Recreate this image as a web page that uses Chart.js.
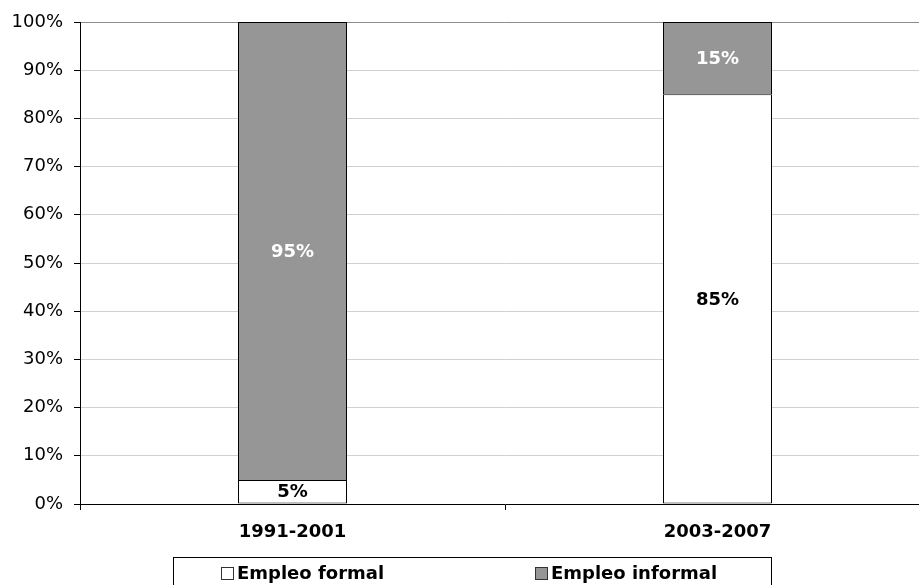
<!DOCTYPE html>
<html>
<head>
<meta charset="utf-8">
<script src="https://cdn.jsdelivr.net/npm/chart.js@4.4.1/dist/chart.umd.min.js"></script>
<style>
  html, body { margin: 0; padding: 0; background: #fff; overflow: hidden; }
  #wrap { width: 930px; height: 585px; }
</style>
</head>
<body>
<div id="wrap"><canvas id="chart" width="930" height="585"></canvas></div>
<script>
// Periods and employment shares (percent of total)
const periods = ['1991-2001', '2003-2007'];
const formalShare = [5, 85];
const informalShare = [95, 15];
const seriesNames = ['Empleo formal', 'Empleo informal'];
const yTicks = [0, 10, 20, 30, 40, 50, 60, 70, 80, 90, 100];

const FONT = 'Verdana, "DejaVu Sans", sans-serif';
const GREY = '#969696';

// Centered percentage labels inside each stacked segment
const segmentLabels = {
  id: 'segmentLabels',
  afterDatasetsDraw(chart) {
    const ctx = chart.ctx;
    ctx.save();
    ctx.font = 'bold 18px ' + FONT;
    ctx.textAlign = 'center';
    ctx.textBaseline = 'middle';
    chart.data.datasets.forEach((ds, di) => {
      const meta = chart.getDatasetMeta(di);
      meta.data.forEach((el, i) => {
        const v = ds.data[i];
        ctx.fillStyle = ds.labelColor;
        ctx.fillText(v + '%', el.x, (el.y + el.base) / 2 + 1);
      });
    });
    ctx.restore();
  }
};

// Boxed legend beneath the category axis
const boxedLegend = {
  id: 'boxedLegend',
  afterDraw(chart) {
    const ctx = chart.ctx;
    ctx.save();
    const top = 557.5, left = 173.5, right = 771.5;
    ctx.strokeStyle = '#000';
    ctx.lineWidth = 1;
    ctx.strokeRect(left, top, right - left, 60);
    const y = 573;
    const starts = [221, 535];
    ctx.font = 'bold 18px ' + FONT;
    ctx.textBaseline = 'middle';
    ctx.textAlign = 'left';
    chart.data.datasets.forEach((ds, i) => {
      const x = starts[i];
      ctx.fillStyle = ds.backgroundColor;
      ctx.fillRect(x + 0.5, y - 5.5, 12, 12);
      ctx.strokeStyle = '#333';
      ctx.strokeRect(x + 0.5, y - 5.5, 12, 12);
      ctx.fillStyle = '#000';
      ctx.fillText(ds.label, x + 16, y + 1);
    });
    ctx.restore();
  }
};

new Chart(document.getElementById('chart'), {
  type: 'bar',
  data: {
    labels: periods,
    datasets: [
      {
        label: seriesNames[0],
        data: formalShare,
        backgroundColor: '#ffffff',
        borderColor: '#000',
        borderWidth: 1,
        borderSkipped: false,
        labelColor: '#000',
        categoryPercentage: 1,
        barPercentage: 109 / 425
      },
      {
        label: seriesNames[1],
        data: informalShare,
        backgroundColor: GREY,
        borderColor: '#000',
        borderWidth: 1,
        borderSkipped: 'bottom',
        labelColor: '#fff',
        categoryPercentage: 1,
        barPercentage: 109 / 425
      }
    ]
  },
  options: {
    responsive: false,
    animation: false,
    devicePixelRatio: 1,
    layout: { padding: { top: 22, right: 0, bottom: 0, left: 0 } },
    plugins: {
      legend: { display: false },
      tooltip: { enabled: false }
    },
    scales: {
      x: {
        stacked: true,
        offset: true,
        grid: {
          offset: true,
          drawOnChartArea: false,
          drawTicks: true,
          tickLength: 6,
          tickColor: '#000'
        },
        border: { color: '#000', width: 1 },
        ticks: {
          color: '#000',
          font: { family: FONT, size: 18, weight: 'bold' },
          padding: 12,
          maxRotation: 0
        },
        afterFit(scale) { scale.height = 81; }
      },
      y: {
        stacked: true,
        min: 0,
        max: 100,
        afterBuildTicks(scale) { scale.ticks = yTicks.map(v => ({ value: v })); },
        grid: {
          color: ctx => (ctx.tick && ctx.tick.value === 100 ? '#8c8c8c' : '#d0d0d0'),
          tickColor: '#000',
          tickLength: 6,
          drawTicks: true
        },
        border: { color: '#000', width: 1 },
        ticks: {
          color: '#000',
          font: { family: FONT, size: 18 },
          padding: 11,
          callback: v => v + '%'
        },
        afterFit(scale) { scale.width = 80; }
      }
    }
  },
  plugins: [segmentLabels, boxedLegend]
});
</script>
</body>
</html>
